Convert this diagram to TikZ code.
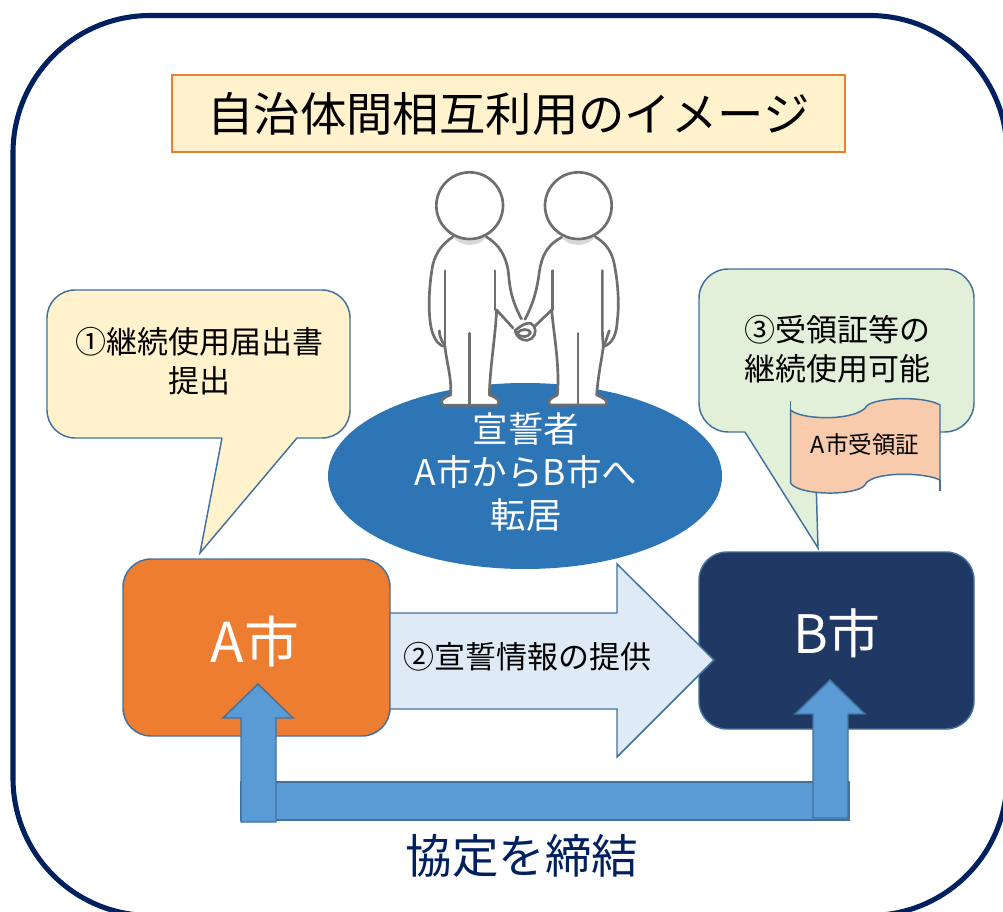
\documentclass[tikz,border=0pt]{standalone}
\usepackage{fontspec}
\setmainfont{Noto Sans CJK JP}
\newcommand{\px}[1]{\fontsize{\the\dimexpr#1pt*3/4\relax}{\the\dimexpr#1pt*3/4*5/4\relax}\selectfont}
\definecolor{navy}{HTML}{002060}
\definecolor{edge}{HTML}{41719C}
\definecolor{cream}{HTML}{FFF2CC}
\definecolor{sage}{HTML}{E2F0D9}
\definecolor{peach}{HTML}{F8CBAD}
\definecolor{pale}{HTML}{DEEAF6}
\definecolor{midblue}{HTML}{5B9BD5}
\definecolor{deepblue}{HTML}{2E75B6}
\definecolor{orange}{HTML}{ED7D31}
\definecolor{darkbox}{HTML}{203864}
\definecolor{inkgrey}{HTML}{6E6E6E}
\tikzset{
  shapeline/.style={draw=edge,line width=1.1pt,line join=miter},
  label/.style={inner sep=0pt,align=center,text=black},
  person/.style={draw=inkgrey,line width=2pt,line cap=round,line join=round},
}
\begin{document}
\begin{tikzpicture}[x=0.75pt,y=-0.75pt]
\useasboundingbox (0,0) rectangle (1003,912);
\clip (0,0) rectangle (1003,912);
\fill[white] (0,0) rectangle (1003,912);

% outer frame, running off the right and bottom edges
\draw[navy,line width=3.8pt,rounded corners=103pt] (13,15.5) rectangle (1007,915.5);

% title
\node[draw=orange,line width=1.1pt,fill=cream,minimum width=504.75pt,minimum height=57.75pt,inner sep=0pt,font=\px{46.4}] (title) at (508.5,113.5) {自治体間相互利用のイメージ};

% callouts: rounded body, then the pointer laid over its lower edge
\draw[shapeline,fill=cream,rounded corners=21pt] (47,290) rectangle (350,438);
\fill[cream] (222,437) -- (200,553) -- (297,437) -- cycle;
\draw[shapeline] (222,438) -- (200,553) -- (297,438);
\node[label,font=\px{31}] (notice) at (199,361) {①継続使用届出書\\提出};

\draw[shapeline,fill=sage,rounded corners=22pt] (699,269) rectangle (974,432);
\fill[sage] (745,431) -- (818,548) -- (816,431) -- cycle;
\draw[shapeline] (745,432) -- (818,548) -- (816,480);
\node[label,font=\px{31}] (reuse) at (837,349) {③受領証等の\\継続使用可能};

% certificate sheet
\begin{scope}[shift={(690,260)},x=0.25pt,y=-0.25pt]
  \draw[shapeline,fill=peach] (302,450) .. controls (330,478) and (480,485) .. (525,445)
    .. controls (535,412) and (700,405) .. (750,435) -- (750,660)
    .. controls (700,635) and (540,635) .. (525,675)
    .. controls (500,708) and (330,708) .. (302,670) -- cycle;
  \draw[shapeline] (302,450) -- (302,422);
  \draw[shapeline] (750,660) -- (750,692);
\end{scope}
\node[label,font=\px{23.5}] (cert) at (865,445) {A市受領証};

% oath taker ellipse
\fill[deepblue] (525,476) ellipse [x radius=197,y radius=93];

% two figures holding hands
\begin{scope}[shift={(400,160)},x=0.25pt,y=-0.25pt]
  % right figure
  \fill[white] (485,232) .. controls (440,255) and (425,290) .. (418,335)
    .. controls (410,400) and (395,440) .. (375,478) -- (405,500) -- (455,450)
    .. controls (462,530) and (480,620) .. (472,705)
    .. controls (450,715) and (440,725) .. (450,735) -- (618,735)
    .. controls (628,725) and (610,712) .. (590,705)
    .. controls (595,640) and (605,600) .. (610,560)
    .. controls (640,550) and (650,520) .. (652,480)
    .. controls (660,420) and (650,340) .. (640,300)
    .. controls (630,265) and (610,245) .. (585,230) -- cycle;
  \draw[person] (375,478) .. controls (395,440) and (410,400) .. (418,335)
    .. controls (425,290) and (440,255) .. (485,232);
  \draw[person] (405,498) -- (455,450)
    .. controls (462,530) and (480,620) .. (472,705)
    .. controls (450,715) and (440,725) .. (450,735) -- (618,735)
    .. controls (628,725) and (610,712) .. (590,705)
    .. controls (595,640) and (605,600) .. (610,560)
    .. controls (640,550) and (650,520) .. (652,480)
    .. controls (660,420) and (650,340) .. (640,300)
    .. controls (630,265) and (610,245) .. (585,230);
  \fill[black!15] (485,234) .. controls (510,262) and (560,262) .. (585,232) -- cycle;
  \draw[person] (457,332) -- (457,450);
  \draw[person] (607,332) -- (607,500) .. controls (607,530) and (609,545) .. (610,560);
  \draw[person] (534,520) -- (534,733);
  \draw[person] (628,512) .. controls (622,525) and (620,540) .. (612,555);
  % left figure
  \fill[white] (160,230) .. controls (120,255) and (100,290) .. (95,335)
    .. controls (85,400) and (85,470) .. (95,510)
    .. controls (105,545) and (120,558) .. (135,560)
    .. controls (140,610) and (155,650) .. (152,705)
    .. controls (130,712) and (115,725) .. (130,736) -- (292,736)
    .. controls (305,725) and (290,712) .. (268,705)
    .. controls (270,620) and (285,540) .. (290,450)
    -- (340,510) -- (365,478)
    .. controls (340,430) and (330,400) .. (325,335)
    .. controls (318,290) and (300,255) .. (258,230) -- cycle;
  \draw[person] (160,230) .. controls (120,255) and (100,290) .. (95,335)
    .. controls (85,400) and (85,470) .. (95,510)
    .. controls (105,545) and (120,558) .. (135,560)
    .. controls (140,610) and (155,650) .. (152,705)
    .. controls (130,712) and (115,725) .. (130,736) -- (292,736)
    .. controls (305,725) and (290,712) .. (268,705)
    .. controls (270,620) and (285,540) .. (290,450)
    -- (340,505);
  \draw[person] (365,478) .. controls (340,430) and (330,400) .. (325,335)
    .. controls (318,290) and (300,255) .. (258,230);
  \fill[black!15] (160,233) .. controls (185,262) and (235,262) .. (258,233) -- cycle;
  \draw[person] (135,332) -- (135,560);
  \draw[person] (285,332) -- (285,450);
  \draw[person] (209,520) -- (209,733);
  \draw[person] (118,512) .. controls (118,530) and (125,545) .. (135,555);
  % clasped hands
  \fill[white] (340,505) -- (365,478) -- (405,498) -- (385,540) -- cycle;
  \draw[person] (345,512) .. controls (350,530) and (362,542) .. (382,541)
    .. controls (402,538) and (412,515) .. (402,498)
    .. controls (392,482) and (370,490) .. (345,512) -- cycle;
  \draw[person] (350,520) .. controls (365,505) and (385,505) .. (392,518)
    .. controls (385,532) and (365,535) .. (350,520);
  % heads
  \draw[person,fill=white] (209,137) circle [radius=100];
  \draw[person,fill=white] (535,137) circle [radius=100];
\end{scope}

\node[label,text=white,font=\px{35.5}] (oath) at (526,472) {宣誓者\\[-1.2pt]A市からB市へ\\[-1.2pt]転居};

% municipalities
\draw[shapeline,fill=orange,rounded corners=21pt] (123,559) rectangle (390,736);
\node[label,text=white,font=\px{55}] (cityA) at (255,642) {A市};
\draw[shapeline,fill=darkbox,rounded corners=21pt] (699,552) rectangle (974,729);
\node[label,text=white,font=\px{53}] (cityB) at (837,633) {B市};

% information transfer arrow
\draw[shapeline,fill=pale] (390,613) -- (617,613) -- (617,564) -- (714,660) -- (617,757) -- (617,709) -- (390,709) -- cycle;
\node[label,font=\px{31}] (transfer) at (527,657) {②宣誓情報の提供};

% agreement link
\draw[shapeline,fill=midblue] (241,782) rectangle (849,820);
\draw[shapeline,fill=midblue] (241,822) -- (241,718) -- (223,718) -- (258,684) -- (293,718) -- (276,718) -- (276,822) -- cycle;
\draw[shapeline,fill=midblue] (813,818) -- (813,714) -- (795,714) -- (830,680) -- (865,714) -- (848,714) -- (848,818) -- cycle;
\node[label,text=navy,font=\px{46.5}] (pact) at (522,856) {協定を締結};
\end{tikzpicture}
\end{document}
